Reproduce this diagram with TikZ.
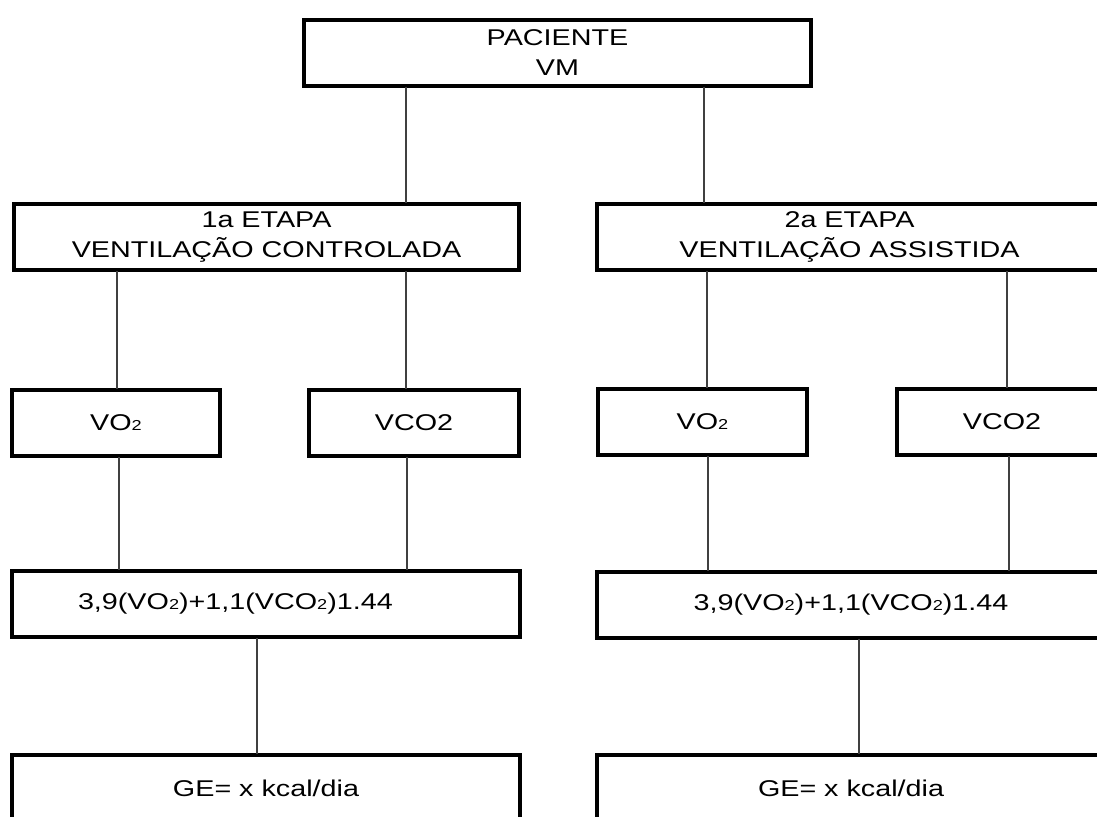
\documentclass[tikz,border=0pt]{standalone}
\usepackage{fontspec}
\setmainfont{Liberation Sans}[FakeStretch=1.26]
\newcommand{\smalltwo}{{\fontsize{7.2}{7.2}\selectfont 2}}
\begin{document}
\begin{tikzpicture}[x=0.5pt, y=-0.5pt,
	box/.style={draw, line width=2pt, minimum height=33pt, inner sep=0pt, align=center,
		font=\fontsize{11.4}{14.8}\selectfont},
	link/.style={line width=1pt, black!75, shorten <=-0.5pt, shorten >=-0.5pt}]
	\useasboundingbox (0,0) rectangle (1097,816);
	\clip (0,0) rectangle (1097,816);
		\node[box, minimum width=253.5pt] at (557.5,52.5) (P) {PACIENTE\\VM};
		\node[box, minimum width=252.5pt] at (266.5,237) (E1) {1a ETAPA\\VENTILAÇÃO CONTROLADA};
		\node[box, minimum width=252.5pt] at (849.5,237) (E2) {2a ETAPA\\VENTILAÇÃO ASSISTIDA};
		\node[box, minimum width=104pt] at (116,423) (V11) {VO\smalltwo};
		\node[box, minimum width=105pt] at (414,423) (V12) {VCO2};
		\node[box, minimum width=104.5pt] at (702.5,422) (V21) {VO\smalltwo};
		\node[box, minimum width=105pt] at (1002,422) (V22) {VCO2};
		\node[box, align=left, text width=188pt, inner xsep=33pt] at (266,604) (F1) {3,9(VO\smalltwo)+1,1(VCO\smalltwo)1.44};
		\node[box, minimum width=254pt] at (851,604.5) (F2) {3,9(VO\smalltwo)+1,1(VCO\smalltwo)1.44};
		\node[box, minimum width=254pt] at (266,788) (G1) {GE= x kcal/dia};
		\node[box, minimum width=254pt] at (851,788) (G2) {GE= x kcal/dia};
		\draw[link] (P.south -| 406,0) -- (E1.north -| 406,0);
		\draw[link] (P.south -| 704,0) -- (E2.north -| 704,0);
		\draw[link] (E1.south -| 117,0) -- (V11.north -| 117,0);
		\draw[link] (E1.south -| 406,0) -- (V12.north -| 406,0);
		\draw[link] (V11.south -| 119,0) -- (F1.north -| 119,0);
		\draw[link] (V12.south -| 407,0) -- (F1.north -| 407,0);
		\draw[link] (F1.south -| 257,0) -- (G1.north -| 257,0);
		\draw[link] (E2.south -| 707,0) -- (V21.north -| 707,0);
		\draw[link] (E2.south -| 1007,0) -- (V22.north -| 1007,0);
		\draw[link] (V21.south -| 708,0) -- (F2.north -| 708,0);
		\draw[link] (V22.south -| 1009,0) -- (F2.north -| 1009,0);
		\draw[link] (F2.south -| 859,0) -- (G2.north -| 859,0);
	\end{tikzpicture}
\end{document}
